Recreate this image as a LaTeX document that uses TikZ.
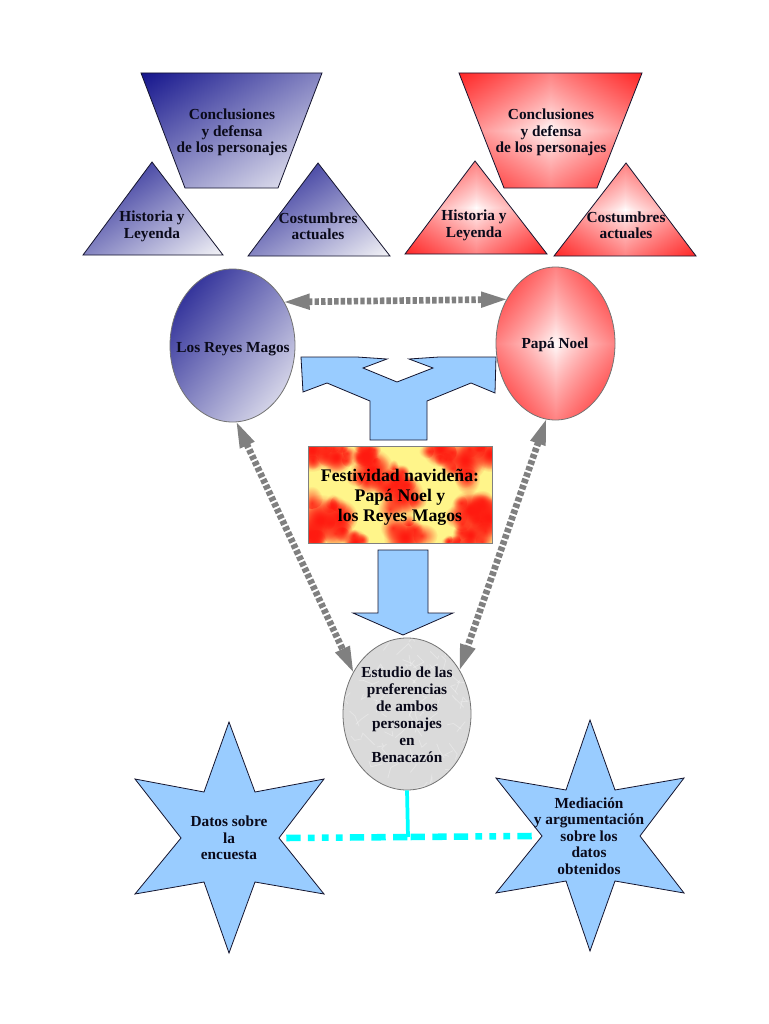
\documentclass[tikz,border=0pt]{standalone}
\usepackage{fontspec}
\setmainfont{Liberation Serif}
\usetikzlibrary{shapes.geometric,arrows.meta,fadings}
\definecolor{skyb}{HTML}{99CCFF}
\definecolor{inkb}{HTML}{14142E}
\definecolor{greya}{HTML}{808080}
\definecolor{cyanl}{HTML}{00FFFF}
\definecolor{flamey}{HTML}{FFF58A}
\definecolor{flamer}{HTML}{FF1A10}
\definecolor{marble}{HTML}{DADADA}
\definecolor{txt}{HTML}{0A0A1A}
\pgfdeclarefunctionalshading{bluediag}{\pgfpointorigin}{\pgfpoint{100bp}{100bp}}{}{
  75 exch sub exch 25 sub add 100 div
  dup 0.88 mul 0.08 add exch dup 0.88 mul 0.08 add exch 0.42 mul 0.55 add
}
\pgfdeclarefunctionalshading{reddiamond}{\pgfpointorigin}{\pgfpoint{100bp}{100bp}}{}{
  50 sub abs 25 div exch 50 sub abs 25 div add 2 div
  0.8 exp 0.85 mul 1 exch sub dup 1 3 1 roll
}
\tikzfading[name=blob, inner color=transparent!0, outer color=transparent!100]
\tikzset{
  outl/.style={draw=inkb,line width=.6pt,line join=miter},
  bluegrad/.style={outl,shade,shading=bluediag},
  redgrad/.style={outl,shade,shading=reddiamond},
  flat/.style={outl,fill=skyb},
  oval/.style={ellipse,inner sep=0pt,draw=greya!90!black,line width=.6pt},
  lbl/.style={align=center,inner sep=0pt,text=txt,font=\bfseries\fontsize{11.5}{12.4}\selectfont},
  lblbig/.style={align=center,inner sep=0pt,text=black,font=\bfseries\fontsize{13.3}{15}\selectfont},
  grayarrow/.style={draw=greya,line width=5pt,dash pattern=on 3.3pt off 1.6pt,shorten <=-2pt,shorten >=-2pt,{Triangle[length=21pt,width=10.5pt]}-{Triangle[length=21pt,width=10.5pt]}},
  cyandash/.style={draw=cyanl,line width=4.9pt,dash pattern=on 10.7pt off 5.5pt on 5pt off 5.5pt on 5pt off 5.5pt on 5pt off 5.5pt on 10.7pt off 5.5pt on 10.7pt off 5.5pt on 10.7pt off 5.5pt on 10.7pt off 5.5pt},
  cyanstem/.style={draw=cyanl,line width=2.8pt},
}
\begin{document}
\begin{tikzpicture}[x=.75pt,y=-.75pt]
\useasboundingbox (0,0) rectangle (768,1024);
\fill[white] (0,0) rectangle (768,1024);

% blue group
\path[bluegrad] (141,73) -- (322,73) -- (278,188) -- (185,188) -- cycle;
\path[bluegrad] (152,162) -- (223,255) -- (83,255) -- cycle;
\path[bluegrad] (318,163) -- (390,256) -- (248,256) -- cycle;
\node[lbl] (t1) at (232,132.5) {Conclusiones\\y defensa\\de los personajes};
\node[lbl] (t2) at (152,226.5) {Historia y\\Leyenda};
\node[lbl] (t3) at (318,226.5) {Costumbres\\actuales};

% red group
\path[redgrad] (459,73) -- (642,73) -- (597,188) -- (504,188) -- cycle;
\path[redgrad] (475,161) -- (547,254) -- (405,254) -- cycle;
\path[redgrad] (626,163) -- (696,256) -- (554,256) -- cycle;
\node[lbl] (t4) at (551,132.5) {Conclusiones\\y defensa\\de los personajes};
\node[lbl] (t5) at (474,225.5) {Historia y\\Leyenda};
\node[lbl] (t6) at (626,225.5) {Costumbres\\actuales};

% forked arrow
\path[flat] (301,357) -- (357,357) -- (387,359) -- (363,368) -- (397,382) -- (433,368) -- (409,359) -- (439,357) -- (496,357) -- (495,393) -- (471,383) -- (427,401) -- (427,440) -- (370,440) -- (370,401) -- (327,383) -- (303,392) -- cycle;

% ovals
\node[oval,minimum width=93.75pt,minimum height=114.75pt,shade,shading=bluediag] (reyes) at (232.5,345.5) {};
\node[oval,minimum width=89.25pt,minimum height=114.75pt,shade,shading=reddiamond] (papa) at (555.5,343.5) {};
\node[oval,minimum width=96pt,minimum height=114pt,fill=marble] (est) at (407,714) {};
\begin{scope}
\clip (407,714) ellipse [x radius=63.5,y radius=75.5];
\pgfmathsetseed{11}
\foreach \k in {1,...,90}{
  \pgfmathsetmacro\ax{343+128*rnd}
  \pgfmathsetmacro\ay{638+152*rnd}
  \pgfmathsetmacro\bx{\ax+24*rnd-12}
  \pgfmathsetmacro\by{\ay+24*rnd-12}
  \pgfmathsetmacro\cx{\bx+16*rnd-8}
  \pgfmathsetmacro\cy{\by+16*rnd-8}
  \draw[white,opacity=.32,line width=.55pt] (\ax,\ay) -- (\bx,\by) -- (\cx,\cy);
}
\end{scope}

% flame box
\node[rectangle,inner sep=0pt,minimum width=137.25pt,minimum height=72pt,fill=flamey] (fest) at (400.5,495) {};
\begin{scope}
\clip (309,447) rectangle (492,543);
\pgfmathsetseed{5}
\foreach \bx/\by/\br in {
  312/450/22, 336/457/17, 372/470/22, 366/455/13, 402/495/22, 397/478/14,
  405/537/22, 440/449/18, 465/460/22, 490/454/18,
  470/510/20, 488/518/23, 470/535/18, 320/520/26, 340/517/18, 310/535/18,
  355/542/13, 455/546/12}
  {\fill[flamer,path fading=blob] (\bx,\by) circle [radius=\br];
   \fill[flamer,path fading=blob] (\bx,\by) circle [radius=.85*\br];
   \foreach \m in {1,...,5}{
     \pgfmathsetmacro\ang{360*rnd}
     \pgfmathsetmacro\dst{\br*(.55+.45*rnd)}
     \pgfmathsetmacro\rad{\br*(.3+.3*rnd)}
     \fill[flamer,opacity=.8,path fading=blob] (\bx,\by) ++(\ang:\dst) circle [radius=\rad];
   }}
\end{scope}
\draw[greya,line width=.6pt] (fest.north west) rectangle (fest.south east);

% down arrow
\path[flat] (378,550) -- (428,550) -- (428,613) -- (453,613) -- (403,635) -- (353,613) -- (378,613) -- cycle;

% stars
\path[flat] (229,722) -- (255,792) -- (324,779) -- (279,838) -- (324,894) -- (255,882) -- (229,953) -- (204,882) -- (135,894) -- (181,838) -- (135,779) -- (204,792) -- cycle;
\path[flat] (590,720) -- (615,790) -- (684,778) -- (640,836) -- (684,893) -- (615,881) -- (590,951) -- (566,881) -- (496,893) -- (542,836) -- (496,778) -- (566,790) -- cycle;

% texts
\node[lbl] (t7) at (233,349) {Los Reyes Magos};
\node[lbl] (t8) at (555,344.5) {Papá Noel};
\node[lblbig] (t9) at (400,497) {Festividad navideña:\\Papá Noel y\\los Reyes Magos};
\node[lbl,font=\bfseries\fontsize{11.5}{12.7}\selectfont] (t10) at (407,714.5) {Estudio de las\\preferencias\\de ambos\\personajes\\en\\Benacazón};
\node[lbl,minimum width=85.5pt] (datos) at (229,838) {Datos sobre\\la\\encuesta};
\node[lbl,minimum width=85.5pt] (medi) at (589,836) {Mediación\\y argumentación\\sobre los\\datos\\obtenidos};

% connectors
\draw[grayarrow] (reyes.40.3) -- (papa.138.8);
\draw[grayarrow] (reyes.-87.4) -- (est.142.6);
\draw[grayarrow] (papa.-97.9) -- (est.40.2);
\coordinate (junc) at (408,837);
\draw[cyanstem] (est.south) -- (junc);
\draw[cyandash] (datos.east) -- (junc);
\draw[cyandash] (medi.west) -- (junc);
\end{tikzpicture}
\end{document}
